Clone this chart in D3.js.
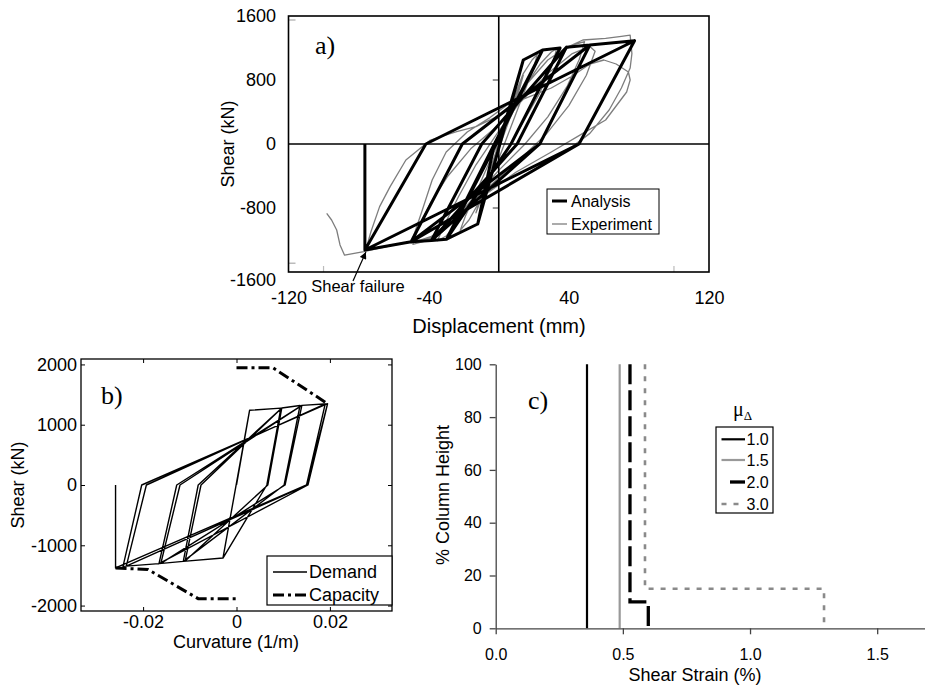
<!DOCTYPE html>
<html><head><meta charset="utf-8">
<script src="https://cdn.jsdelivr.net/npm/d3@7"></script>
<style>
body{margin:0;background:#fff}
</style></head><body>
<svg id="fig" width="925" height="688" xmlns="http://www.w3.org/2000/svg" font-family="Arial, 'Liberation Sans', sans-serif"></svg>
<script>
// ---------------- DATA ----------------
// Panel a: ticks
const dispTicks = [-120, -40, 40, 120];
const shearTicksA = [-1600, -800, 0, 800, 1600];
// Panel a: analysis (displacement mm, shear kN)
const analysisDisp = [0,14,-12,14,-12, 14,25,-2.5,-12,-29.8,-1.5,25,-2.5,-29.8,-1.5,
  25,35,7,-29.8,-38.4,-9.7,38.6,10.5,-38.4,-9.7,
  38.6,52,23.4,-38.4,-50,-20.8,52,23.4,-50,-20.8,
  52,77.5,45.8,-50,-76.4,-41.6,77.5,45.8,-76.4,-76.4];
const analysisShear = [0,1050,-1000,1050,-1000, 1050,1175,0,-1000,-1190,0,1175,0,-1190,0,
  1175,1200,0,-1190,-1205,0,1210,0,-1205,0,
  1210,1237,0,-1205,-1221,0,1237,0,-1221,0,
  1237,1291,0,-1221,-1325,0,1291,0,-1325,0];
// Panel a: experiment (displacement mm, shear kN)
const expDisp = [0,5,10,14,12,6,0,-6,-10,-13,-10,-4,2,8,14,
  19,22,20,14,6,-2,-10,-17,-22,-19,-12,-4,6,15,
  24,30,33,31,23,12,0,-12,-22,-30,-35,-31,-23,-13,0,12,25,36,44,49,
  46,39,28,15,0,-15,-28,-40,-49,-46,-39,-29,-16,0,14,28,42,52,55,50,40,27,10,-8,-24,-38,-50,
  -44,-38,-30,-18,-5,8,18,28,38,48,61,70,75,76,75,70,63,52,42,25,4,-12,-22,-37,-56,-70,-76,
  -73,-68,-62,-53,-39,-24,-13,-1,14,30,42,52,60,67,74,75,73,61,48,30,10,-10,-25,-40,-60,-77,-88,-90.6,-92.5,-95.4,-98.2];
const expShear = [0,320,620,860,700,300,-60,-400,-690,-860,-660,-260,140,540,880,
  1050,1120,960,620,160,-300,-680,-950,-1080,-900,-560,-160,300,720,
  1010,1150,1190,1020,620,200,-250,-650,-950,-1150,-1210,-1010,-660,-260,160,520,880,1160,1250,1280,
  1060,720,340,0,-330,-690,-1000,-1200,-1255,-1050,-740,-400,-60,240,560,880,1130,1220,1160,860,480,120,-230,-580,-900,-1150,-1240,
  -850,-450,-100,150,330,540,800,1050,1200,1300,1320,1345,1360,1130,950,700,425,133,-33,-241,-450,-700,-900,-1190,-1245,-1310,-1335,
  -1100,-783,-533,-200,50,154,217,342,560,700,850,1000,1050,1000,900,800,650,300,133,-100,-350,-660,-950,-1180,-1265,-1345,-1390,-1262,-1075,-950,-866];

// Panel b: ticks
const curvTicks = [-0.02, 0, 0.02];
const shearTicksB = [-2000, -1000, 0, 1000, 2000];
// Panel b: demand (curvature 1/m, shear kN)
const demandCurv = [0,0.0028,-0.0029,0.0028,-0.0029,
  0.0028,0.0095,0.0065,-0.0029,-0.0114,-0.0082,0.0097,0.0067,-0.0110,-0.0076,
  0.0097,0.0136,0.0102,-0.0114,-0.0166,-0.0128,0.0140,0.0104,-0.0162,-0.0121,
  0.0140,0.0195,0.0153,-0.0166,-0.0243,-0.0203,0.0195,0.0151,-0.0236,-0.0193,
  0.0190,0.0150,-0.0259,-0.0259];
const demandShear = [0,1239,-1212,1239,-1212,
  1239,1275,0,-1212,-1266,0,1278,0,-1262,0,
  1278,1318,0,-1266,-1305,0,1320,0,-1300,0,
  1320,1348,0,-1305,-1349,0,1348,0,-1345,0,
  1345,0,-1376,0];
// Panel b: capacity
const capTopCurv = [0, 0.0078, 0.0195];
const capTopShear = [1945, 1945, 1348];
const capBotCurv = [-0.0259, -0.0190, -0.0082, 0];
const capBotShear = [-1376, -1400, -1885, -1885];

// Panel c
const strainTicks = [0, 0.5, 1.0, 1.5];
const heightTicks = [0, 20, 40, 60, 80, 100];
const muLabels = ["1.0", "1.5", "2.0", "3.0"];
const strainMu10 = [0.359, 0.359];
const heightMu10 = [0, 100];
const strainMu15 = [0.4875, 0.4875];
const heightMu15 = [0, 100];
const strainMu20 = [0.528, 0.528, 0.600, 0.600];
const heightMu20 = [100, 10, 10, 0];
const strainMu30 = [0.587, 0.587, 1.291, 1.291];
const heightMu30 = [100, 15, 15, 0];

// ---------------- DRAW ----------------
const svg = d3.select("#fig");
const SANS = "Arial, 'Liberation Sans', sans-serif";
const SERIF = "'Times New Roman', 'Liberation Serif', serif";
function styleAxis(g, size) {
  g.attr("font-family", SANS).attr("font-size", size);
  g.selectAll("text").attr("fill", "#000");
}

// ===== Panel a =====
const xA = d3.scaleLinear().domain([-120, 120]).range([288.5, 709]);
const yA = d3.scaleLinear().domain([-1600, 1600]).range([272, 16]);
const gA = svg.append("g");
const lineA = d3.line().x(d => xA(d[0])).y(d => yA(d[1]));

// faint artifact ticks of the scanned experiment plot
[[-120,1550,-116,1550],[-120,-1490,-116,-1490]].forEach(t=>{
  gA.append("line").attr("x1",xA(t[0])).attr("x2",xA(t[2])).attr("y1",yA(t[1])).attr("y2",yA(t[3]))
    .attr("stroke","#aaa").attr("stroke-width",1.2);
});
[-100,100].forEach(v=>{
  gA.append("line").attr("x1",xA(v)).attr("x2",xA(v)).attr("y1",yA(-1600)).attr("y2",yA(-1600)-6)
    .attr("stroke","#bbb").attr("stroke-width",1.2);
});
[-800,800].forEach(v=>{
  gA.append("line").attr("x1",xA(0)-6).attr("x2",xA(0)).attr("y1",yA(v)).attr("y2",yA(v))
    .attr("stroke","#333").attr("stroke-width",1);
});

gA.append("path").datum(d3.zip(expDisp, expShear)).attr("d", lineA)
  .attr("fill", "none").attr("stroke", "#7d7d7d").attr("stroke-width", 1.3).attr("stroke-linejoin", "round");

gA.append("line").attr("x1", xA(-120)).attr("x2", xA(120)).attr("y1", yA(0)).attr("y2", yA(0))
  .attr("stroke", "#000").attr("stroke-width", 1.6);
gA.append("line").attr("x1", xA(0)).attr("x2", xA(0)).attr("y1", yA(1600)).attr("y2", yA(-1600))
  .attr("stroke", "#000").attr("stroke-width", 1.6);

gA.append("path").datum(d3.zip(analysisDisp, analysisShear)).attr("d", lineA)
  .attr("fill", "none").attr("stroke", "#000").attr("stroke-width", 3).attr("stroke-linejoin", "round");

gA.append("rect").attr("x", xA(-120)).attr("y", yA(1600)).attr("width", xA(120) - xA(-120))
  .attr("height", yA(-1600) - yA(1600)).attr("fill", "none").attr("stroke", "#000").attr("stroke-width", 1.6);

gA.append("g").attr("transform", `translate(${xA(-120)},0)`)
  .call(d3.axisLeft(yA).tickValues(shearTicksA).tickSize(0).tickPadding(12.5).tickFormat(d => String(d)))
  .call(g => { g.select(".domain").remove(); styleAxis(g, 18); g.selectAll(".tick").filter(d => d === -1600).select("text").attr("y", 8); });
gA.append("g").attr("transform", `translate(0,${yA(-1600)})`)
  .call(d3.axisBottom(xA).tickValues(dispTicks).tickSize(0).tickPadding(19).tickFormat(d => String(d)))
  .call(g => { g.select(".domain").remove(); styleAxis(g, 18); });

gA.append("text").attr("x", 499).attr("y", 333).attr("text-anchor", "middle").attr("font-size", 20).text("Displacement (mm)");
gA.append("text").attr("transform", "translate(234,144) rotate(-90)").attr("text-anchor", "middle").attr("font-size", 18).text("Shear (kN)");
gA.append("text").attr("x", 315).attr("y", 54).attr("font-family", SERIF).attr("font-size", 26).text("a)");

// Shear failure annotation
const defs = svg.append("defs");
defs.append("marker").attr("id", "arr").attr("viewBox", "0 0 10 10").attr("refX", 10).attr("refY", 5)
  .attr("markerWidth", 9).attr("markerHeight", 7).attr("markerUnits", "userSpaceOnUse").attr("orient", "auto")
  .append("path").attr("d", "M0,0 L10,5 L0,10 z").attr("fill", "#000");
gA.append("line").attr("x1", 353).attr("y1", 281).attr("x2", xA(-76.4) + 1).attr("y2", yA(-1325) + 2)
  .attr("stroke", "#000").attr("stroke-width", 1.2).attr("marker-end", "url(#arr)");
gA.append("text").attr("x", 358).attr("y", 292).attr("text-anchor", "middle").attr("font-size", 16.5).text("Shear failure");

// legend a
const lgA = gA.append("g");
lgA.append("rect").attr("x", 547).attr("y", 189).attr("width", 112).attr("height", 45).attr("fill", "#fff").attr("stroke", "#000").attr("stroke-width", 1);
lgA.append("line").attr("x1", 552).attr("x2", 567).attr("y1", 201).attr("y2", 201).attr("stroke", "#000").attr("stroke-width", 3);
lgA.append("line").attr("x1", 552).attr("x2", 567).attr("y1", 224).attr("y2", 224).attr("stroke", "#7d7d7d").attr("stroke-width", 1.3);
lgA.append("text").attr("x", 571).attr("y", 207).attr("font-size", 16).text("Analysis");
lgA.append("text").attr("x", 571).attr("y", 230).attr("font-size", 16).text("Experiment");

// ===== Panel b =====
const xB = d3.scaleLinear().domain([-0.0333, 0.0333]).range([81, 392]);
const yB = d3.scaleLinear().domain([-2090, 2090]).range([611, 359]);
const gB = svg.append("g");
const lineB = d3.line().x(d => xB(d[0])).y(d => yB(d[1]));

gB.append("path").datum(d3.zip(demandCurv, demandShear)).attr("d", lineB)
  .attr("fill", "none").attr("stroke", "#000").attr("stroke-width", 1.4).attr("stroke-linejoin", "round");
[[capTopCurv, capTopShear], [capBotCurv, capBotShear]].forEach(([c, v]) => {
  gB.append("path").datum(d3.zip(c, v)).attr("d", lineB).attr("fill", "none").attr("stroke", "#000")
    .attr("stroke-width", 3).attr("stroke-dasharray", "11,4,3,4");
});

gB.append("rect").attr("x", xB(-0.0333)).attr("y", yB(2090)).attr("width", xB(0.0333) - xB(-0.0333))
  .attr("height", yB(-2090) - yB(2090)).attr("fill", "none").attr("stroke", "#000").attr("stroke-width", 1.3);

gB.append("g").attr("transform", `translate(0,${yB(-2090)})`)
  .call(d3.axisBottom(xB).tickValues(curvTicks).tickSize(-4).tickPadding(4).tickFormat(d => String(d)))
  .call(g => { g.select(".domain").remove(); styleAxis(g, 18); });
gB.append("g").attr("transform", `translate(0,${yB(2090)})`)
  .call(d3.axisTop(xB).tickValues(curvTicks).tickSize(-4).tickFormat(""))
  .call(g => g.select(".domain").remove());
gB.append("g").attr("transform", `translate(${xB(-0.0333)},0)`)
  .call(d3.axisLeft(yB).tickValues(shearTicksB).tickSize(-4).tickPadding(4).tickFormat(d => String(d)))
  .call(g => { g.select(".domain").remove(); styleAxis(g, 18); });
gB.append("g").attr("transform", `translate(${xB(0.0333)},0)`)
  .call(d3.axisRight(yB).tickValues(shearTicksB).tickSize(-4).tickFormat(""))
  .call(g => g.select(".domain").remove());

gB.append("text").attr("x", 236).attr("y", 648).attr("text-anchor", "middle").attr("font-size", 18).text("Curvature (1/m)");
gB.append("text").attr("transform", "translate(24,485) rotate(-90)").attr("text-anchor", "middle").attr("font-size", 18).text("Shear (kN)");
gB.append("text").attr("x", 101).attr("y", 404).attr("font-family", SERIF).attr("font-size", 26).text("b)");

const lgB = gB.append("g");
lgB.append("rect").attr("x", 267).attr("y", 556).attr("width", 125).attr("height", 49).attr("fill", "#fff").attr("stroke", "#000").attr("stroke-width", 1.2);
lgB.append("line").attr("x1", 273).attr("x2", 307).attr("y1", 572).attr("y2", 572).attr("stroke", "#000").attr("stroke-width", 1.4);
lgB.append("line").attr("x1", 273).attr("x2", 307).attr("y1", 595).attr("y2", 595).attr("stroke", "#000").attr("stroke-width", 3).attr("stroke-dasharray", "11,4,3,4");
lgB.append("text").attr("x", 309).attr("y", 578).attr("font-size", 18).text("Demand");
lgB.append("text").attr("x", 309).attr("y", 601).attr("font-size", 18).text("Capacity");

// ===== Panel c =====
const xC = d3.scaleLinear().domain([0, 1.688]).range([495.7, 925]);
const yC = d3.scaleLinear().domain([0, 100]).range([628.3, 364.3]);
const gC = svg.append("g");
const lineC = d3.line().x(d => xC(d[0])).y(d => yC(d[1]));

const seriesC = [
  { s: strainMu10, h: heightMu10, color: "#000", w: 2.2, dash: null },
  { s: strainMu15, h: heightMu15, color: "#999", w: 2.2, dash: null },
  { s: strainMu20, h: heightMu20, color: "#000", w: 3.3, dash: "20,6" },
  { s: strainMu30, h: heightMu30, color: "#8a8a8a", w: 2.6, dash: "5,7" }
];
seriesC.forEach(sr => {
  gC.append("path").datum(d3.zip(sr.s, sr.h)).attr("d", lineC).attr("fill", "none")
    .attr("stroke", sr.color).attr("stroke-width", sr.w).attr("stroke-dasharray", sr.dash);
});

gC.append("g").attr("transform", `translate(${xC(0)},0)`)
  .call(d3.axisLeft(yC).tickValues(heightTicks).tickSize(6).tickSizeOuter(0).tickPadding(8).tickFormat(d => String(d)))
  .call(g => { styleAxis(g, 16); g.selectAll("line,path").attr("stroke", "#444").attr("stroke-width", 1.3); });
gC.append("g").attr("transform", `translate(0,${yC(0)})`)
  .call(d3.axisBottom(xC).tickValues(strainTicks).tickSize(6).tickSizeOuter(0).tickPadding(14).tickFormat(d => d.toFixed(1)))
  .call(g => { styleAxis(g, 16); g.selectAll("line,path").attr("stroke", "#444").attr("stroke-width", 1.3); });

gC.append("text").attr("x", 695).attr("y", 681).attr("text-anchor", "middle").attr("font-size", 18).text("Shear Strain (%)");
gC.append("text").attr("transform", "translate(449,495) rotate(-90)").attr("text-anchor", "middle").attr("font-size", 18).text("% Column Height");
gC.append("text").attr("x", 528).attr("y", 409).attr("font-family", SERIF).attr("font-size", 26).text("c)");

const lgC = gC.append("g");
const mt = lgC.append("text").attr("x", 733).attr("y", 416).attr("font-family", SERIF).attr("font-size", 20);
mt.append("tspan").text("μ");
mt.append("tspan").attr("font-size", 13).attr("dy", 4).text("Δ");
lgC.append("rect").attr("x", 716).attr("y", 427).attr("width", 57).attr("height", 86).attr("fill", "#fff").attr("stroke", "#000").attr("stroke-width", 1.2);
const lgRows = [439.3, 460, 482, 504];
const lgSamples = [[721.5, 745], [721.5, 745], [730, 745], [721.5, 745]];
muLabels.forEach((lab, i) => {
  const sr = seriesC[i];
  lgC.append("line").attr("x1", lgSamples[i][0]).attr("x2", lgSamples[i][1]).attr("y1", lgRows[i]).attr("y2", lgRows[i])
    .attr("stroke", sr.color).attr("stroke-width", sr.w).attr("stroke-dasharray", sr.dash);
  lgC.append("text").attr("x", 746.5).attr("y", lgRows[i] + 6).attr("font-size", 16).text(lab);
});
</script>
</body></html>
